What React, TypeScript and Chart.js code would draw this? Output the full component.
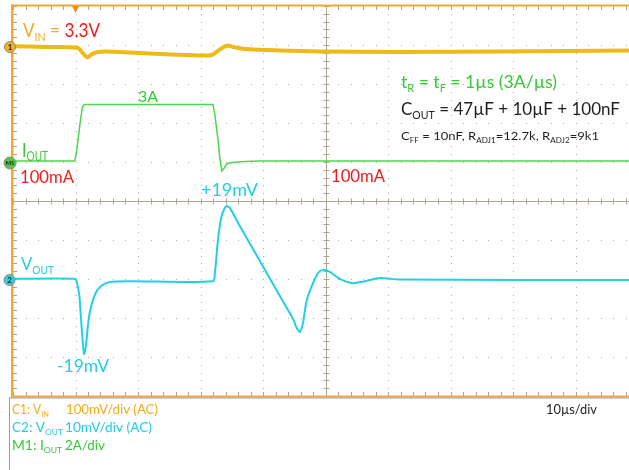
import React, { useEffect, useRef } from "react";
import { Chart, registerables } from "chart.js";

Chart.register(...registerables);

// ---- time base: 10 µs/div, visible window 0 .. 98.56 µs ----
const T_MIN = 0;
const T_MAX = 98.56;
const DIVS_Y = 5; // ±5 div

// ---- C1: V_IN (AC, 100 mV/div), deviation in mV ----
const vinT = [0, 5.1, 10.4, 11.0, 11.7, 12.0, 12.5, 13.3, 14.7, 18.7, 23.5, 29.9, 31.8, 32.8, 33.6, 34.4, 35.2, 37.1, 42.7, 49.1, 61.9, 77.9, 98.56];
const vinMv = [2, 0, -2.6, -12.8, -25, -26, -20, -14, -11.5, -14, -18, -22, -20.5, -10, -1.3, 3.8, 0, -5, -9, -11.5, -12.8, -11.5, -9];

// ---- M1: I_OUT (2 A/div), in A ----
const ioutT = [0, 9.9, 10.2, 10.7, 11.1, 11.4, 32.0, 32.3, 32.8, 33.1, 33.4, 33.8, 34.2, 35.0, 37.1, 39.5, 98.56];
const ioutA = [0.1, 0.1, 0.66, 1.95, 2.87, 3.0, 3.0, 2.46, 1.18, 0.25, -0.41, -0.26, -0.05, 0.02, 0.07, 0.1, 0.1];

// ---- C2: V_OUT (AC, 10 mV/div), deviation in mV ----
const voutT = [0, 9.9, 10.2, 10.6, 10.9, 11.2, 11.4, 11.7, 12.0, 12.3, 12.8, 13.4, 14.2, 15.5, 18.7, 32.0, 32.3, 32.8, 33.3, 33.8, 34.2, 34.7, 36.3, 39.5, 42.7, 44.8, 45.4, 45.9, 46.4, 47.0, 48.0, 48.8, 49.6, 50.7, 52.3, 54.4, 56.3, 58.7, 61.9, 98.56];
const voutMv = [0.3, 0.3, -0.5, -3.8, -10.3, -16.7, -19, -16.4, -11.5, -8.2, -5.1, -2.8, -1.4, -0.5, -0.3, -0.3, 1.8, 10.3, 15.9, 18.2, 19, 18.5, 13.8, 4.9, -4.1, -10, -12.3, -13.3, -11, -5.1, -0.8, 1.8, 2.6, 2.1, 0.3, -0.8, -0.3, 0.5, 0.1, 0];

// channel settings (units/div and on-screen offsets in divisions)
const VIN_SCALE = 100; // mV/div
const VIN_OFFSET = 3.95;
const IOUT_SCALE = 2; // A/div
const IOUT_OFFSET = 0.976;
const VOUT_SCALE = 10; // mV/div
const VOUT_OFFSET = -2.026;

const FONT = "Lato, 'Open Sans', sans-serif";
const FRAME = "#f5a733";
const VIN_C = "#eebb14";
const VIN_TXT = "#f3ab1e";
const RED = "#f21c1c";
const GREEN = "#36c936";
const GREEN_TR = "#4cd84c";
const CYAN = "#22cfe3";
const BLACK = "#1e1e1e";
const GRID = "#a9a9a9";
const AXIS = "#aca391";

type Seg = [string, string, number?];

function rich(ctx: CanvasRenderingContext2D, x: number, y: number, size: number, segs: Seg[], width?: number) {
  const fontFor = (sub?: number) => `${sub ? size * 0.62 : size}px ${FONT}`;
  let total = 0;
  for (const [t, , sub] of segs) {
    ctx.font = fontFor(sub);
    total += ctx.measureText(t).width;
  }
  const k = width ? width / total : 1;
  ctx.save();
  ctx.translate(x, y);
  ctx.scale(k, 1);
  let cx = 0;
  for (const [t, c, sub] of segs) {
    ctx.font = fontFor(sub);
    ctx.fillStyle = c;
    ctx.fillText(t, cx, sub ? size * 0.22 : 0);
    cx += ctx.measureText(t).width;
  }
  ctx.restore();
}

function marker(ctx: CanvasRenderingContext2D, x: number, y: number, r: number, fill: string, label: string) {
  ctx.beginPath();
  ctx.arc(x, y, r, 0, Math.PI * 2);
  ctx.fillStyle = fill;
  ctx.fill();
  ctx.lineWidth = 1;
  ctx.strokeStyle = "#8a8a8a";
  ctx.stroke();
  ctx.fillStyle = "#222";
  ctx.font = `bold ${label.length > 1 ? 6 : 8}px ${FONT}`;
  ctx.textAlign = "center";
  ctx.textBaseline = "middle";
  ctx.fillText(label, x, y + 0.5);
  ctx.textAlign = "left";
  ctx.textBaseline = "alphabetic";
}

const scopePlugin = {
  id: "scope",
  beforeDatasetsDraw(chart: any) {
    const { ctx, chartArea: a, scales } = chart;
    const xs = scales.x;
    const ys = scales.y;
    ctx.save();
    // dotted graticule
    ctx.fillStyle = GRID;
    for (let i = 1; i < 10; i++) {
      if (i === 5) continue;
      const px = Math.round(xs.getPixelForValue(i * 10));
      if (px > a.right) continue;
      for (let k = -25; k <= 25; k++) {
        const py = Math.round(ys.getPixelForValue(k / 5));
        ctx.fillRect(px, py, 1, 1);
      }
    }
    for (let j = -4; j <= 4; j++) {
      if (j === 0) continue;
      const py = Math.round(ys.getPixelForValue(j));
      for (let k = 0; k <= 50; k++) {
        const px = Math.round(xs.getPixelForValue(k * 2));
        if (px > a.right) break;
        ctx.fillRect(px, py, 1, 1);
      }
    }
    // centre axes with minor ticks, frame ticks
    const cx = Math.round(xs.getPixelForValue(50)) + 0.5;
    const cy = Math.round(ys.getPixelForValue(0)) + 0.5;
    ctx.strokeStyle = AXIS;
    ctx.lineWidth = 1;
    ctx.beginPath();
    ctx.moveTo(a.left, cy);
    ctx.lineTo(a.right, cy);
    ctx.moveTo(cx, a.top);
    ctx.lineTo(cx, a.bottom);
    for (let k = 0; k <= 50; k++) {
      const px = Math.round(xs.getPixelForValue(k * 2)) + 0.5;
      if (px > a.right) break;
      ctx.moveTo(px, cy - 3);
      ctx.lineTo(px, cy + 3);
      ctx.moveTo(px, a.top);
      ctx.lineTo(px, a.top + 4);
      ctx.moveTo(px, a.bottom);
      ctx.lineTo(px, a.bottom - 4);
    }
    for (let k = -25; k <= 25; k++) {
      const py = Math.round(ys.getPixelForValue(k / 5)) + 0.5;
      ctx.moveTo(cx - 3, py);
      ctx.lineTo(cx + 3, py);
      ctx.moveTo(a.left, py);
      ctx.lineTo(a.left + 4, py);
    }
    ctx.stroke();
    ctx.restore();
  },
  afterDatasetsDraw(chart: any) {
    const { ctx, chartArea: a, scales } = chart;
    const xs = scales.x;
    ctx.save();
    // frame
    ctx.fillStyle = FRAME;
    ctx.fillRect(a.left - 2, a.top - 1.5, a.right - a.left + 2, 2);
    ctx.fillRect(a.left - 2, a.top - 1.5, 2.5, a.bottom - a.top + 3);
    ctx.fillRect(a.left - 2, a.bottom - 0.5, a.right - a.left + 2, 2);
    ctx.fillStyle = "#9a9a9a";
    ctx.fillRect(9, a.bottom + 1.5, a.right - 9, 1);
    ctx.fillRect(9, a.bottom + 1.5, 1, 470 - a.bottom);
    // trigger marker
    const tx = xs.getPixelForValue(10);
    ctx.fillStyle = "#f08a1c";
    ctx.beginPath();
    ctx.moveTo(tx - 3.5, a.top);
    ctx.lineTo(tx + 3.5, a.top);
    ctx.lineTo(tx, a.top + 7);
    ctx.closePath();
    ctx.fill();
    // channel markers
    marker(ctx, 10, 47, 5.5, "#f4b222", "1");
    marker(ctx, 10, 163, 6, "#4ccc3c", "M1");
    marker(ctx, 9.5, 280, 5.5, "#35d0df", "2");

    // annotations
    rich(ctx, 23, 37, 18.5, [["V", VIN_TXT], ["IN", VIN_TXT, 1], [" = ", VIN_TXT], ["3.3V", RED]], 77);
    rich(ctx, 138, 102, 15, [["3A", GREEN]], 20);
    rich(ctx, 22, 157, 20, [["I", GREEN], ["OUT", GREEN, 1]], 26);
    rich(ctx, 20, 183, 17.5, [["100mA", RED]], 54);
    rich(ctx, 331, 182, 17.5, [["100mA", RED]], 54);
    rich(ctx, 201, 196, 17.5, [["+19mV", CYAN]], 57);
    rich(ctx, 57, 372, 17.5, [["-19mV", CYAN]], 52);
    rich(ctx, 21, 270, 18, [["V", CYAN], ["OUT", CYAN, 1]], 33);
    rich(ctx, 401, 88, 17.5, [["t", GREEN], ["R", GREEN, 1], [" = t", GREEN], ["F", GREEN, 1], [" = 1µs (3A/µs)", GREEN]], 156);
    rich(ctx, 401, 115, 17.5, [["C", BLACK], ["OUT", BLACK, 1], [" = 47µF + 10µF + 100nF", BLACK]], 219);
    rich(ctx, 401, 140, 11.5, [["C", BLACK], ["FF", BLACK, 1], [" = 10nF, R", BLACK], ["ADJ1", BLACK, 1], ["=12.7k, R", BLACK], ["ADJ2", BLACK, 1], ["=9k1", BLACK]], 198);

    // bottom legend
    rich(ctx, 12, 414, 13, [["C1: V", VIN_TXT], ["IN", VIN_TXT, 1]], 37);
    rich(ctx, 66, 414, 13, [["100mV/div (AC)", VIN_TXT]], 92);
    rich(ctx, 12, 432, 13, [["C2: V", CYAN], ["OUT", CYAN, 1]], 51);
    rich(ctx, 65, 432, 13, [["10mV/div (AC)", CYAN]], 87);
    rich(ctx, 12, 450, 13, [["M1: I", GREEN], ["OUT", GREEN, 1]], 50);
    rich(ctx, 65, 450, 13, [["2A/div", GREEN]], 40);
    rich(ctx, 546, 414, 13, [["10µs/div", BLACK]], 51);
    ctx.restore();
  },
};

function toPoints(t: number[], v: number[], scale: number, offset: number) {
  return t.map((tt, i) => ({ x: tt, y: offset + v[i] / scale }));
}

export default function App() {
  const ref = useRef<HTMLCanvasElement>(null);
  useEffect(() => {
    if (!ref.current) return;
    const chart = new Chart(ref.current, {
      type: "line",
      data: {
        datasets: [
          {
            label: "V_IN",
            data: toPoints(vinT, vinMv, VIN_SCALE, VIN_OFFSET),
            borderColor: VIN_C,
            borderWidth: 4,
            pointRadius: 0,
            tension: 0.3,
          },
          {
            label: "I_OUT",
            data: toPoints(ioutT, ioutA, IOUT_SCALE, IOUT_OFFSET),
            borderColor: GREEN_TR,
            borderWidth: 1.5,
            pointRadius: 0,
            tension: 0,
          },
          {
            label: "V_OUT",
            data: toPoints(voutT, voutMv, VOUT_SCALE, VOUT_OFFSET),
            borderColor: CYAN,
            borderWidth: 2,
            pointRadius: 0,
            tension: 0.25,
          },
        ],
      },
      options: {
        responsive: false,
        animation: false,
        layout: { padding: { left: 13, top: 6, right: 0, bottom: 74 } },
        plugins: { legend: { display: false }, tooltip: { enabled: false } },
        scales: {
          x: { type: "linear", min: T_MIN, max: T_MAX, display: false },
          y: { type: "linear", min: -DIVS_Y, max: DIVS_Y, display: false },
        },
      },
      plugins: [scopePlugin],
    });
    return () => chart.destroy();
  }, []);
  return (
    <div style={{ position: "fixed", left: 0, top: 0, width: 629, height: 470, background: "#fff" }}>
      <canvas ref={ref} width={629} height={470} style={{ display: "block" }} />
    </div>
  );
}
